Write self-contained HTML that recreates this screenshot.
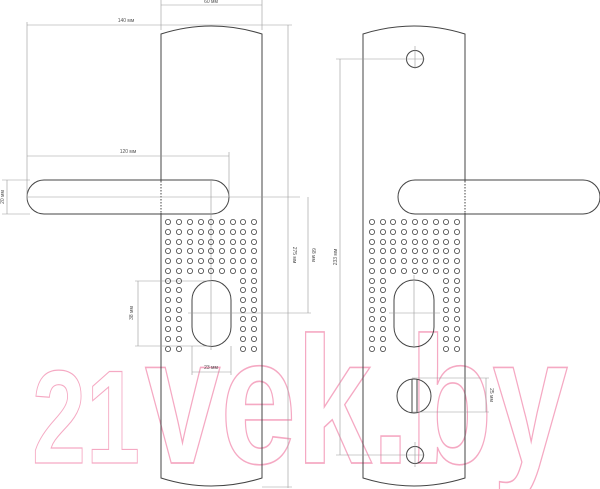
<!DOCTYPE html>
<html><head><meta charset="utf-8"><style>html,body{margin:0;padding:0;background:#fff}svg{display:block}</style></head><body>
<svg width="600" height="489" viewBox="0 0 600 489" xmlns="http://www.w3.org/2000/svg" font-family="Liberation Sans, sans-serif">
<!-- watermark -->
<g fill="none" stroke="#f5a9c3" stroke-width="1.2" font-weight="bold">
<text x="32" y="463" font-size="133" textLength="108" lengthAdjust="spacingAndGlyphs">21</text>
<g transform="translate(0,463) scale(1,1.36)">
<text x="145" y="0" font-size="133" textLength="423" lengthAdjust="spacingAndGlyphs">vek.by</text>
</g>
</g>
<g fill="none" stroke="#444" stroke-width="1">
<!-- left plate -->
<path d="M161 34 Q211 18 262 34 L262 478 Q211 494 161 478 Z"/>
<path d="M161 180 L61 180 L44 180 A17 17 0 0 0 44 214 L161 214 M161 180 L212 180 A17 17 0 0 1 212 214 L161 214" />
<!-- left keyhole -->
<path d="M192 300 A19.5 19.5 0 0 1 231 300 L231 327 A19.5 19.5 0 0 1 192 327 Z"/>
<!-- right plate -->
<path d="M363 34 Q414 18 465 34 L465 478 Q414 494 363 478 Z"/>
<path d="M465 180 L583 180 A17 17 0 0 1 583 214 L465 214 M465 180 L415 180 A17 17 0 0 0 415 214 L465 214"/>
<path d="M394 300 A20 20 0 0 1 434 300 L434 327 A20 20 0 0 1 394 327 Z"/>
<circle cx="415" cy="59" r="8.5"/>
<circle cx="415" cy="455" r="8.5"/>
<circle cx="414" cy="396" r="17"/>
<line x1="412" y1="379" x2="412" y2="413"/><line x1="417" y1="379" x2="417" y2="413"/>
</g>
<g stroke="#fff" stroke-width="1.2"><line x1="161" y1="181" x2="161" y2="213"/><line x1="465" y1="181" x2="465" y2="213"/></g>
<g stroke="#444" stroke-width="1" stroke-dasharray="1.5 1.5"><line x1="161" y1="181" x2="161" y2="213"/><line x1="465" y1="181" x2="465" y2="213"/></g>
<!-- dim lines -->
<g stroke="#999" stroke-width="0.6" fill="none">
<line x1="161" y1="0" x2="161" y2="30"/><line x1="262" y1="0" x2="262" y2="30"/>
<line x1="161" y1="5" x2="262" y2="5"/>
<line x1="27" y1="25" x2="262" y2="25"/><line x1="27" y1="22" x2="27" y2="200"/>
<line x1="262" y1="25" x2="292" y2="25"/>
<line x1="27" y1="156" x2="229" y2="156"/><line x1="229" y1="152" x2="229" y2="197"/>
<line x1="2" y1="180" x2="30" y2="180"/><line x1="2" y1="214" x2="30" y2="214"/>
<line x1="7" y1="180" x2="7" y2="214"/>
<line x1="27" y1="197" x2="300" y2="197"/>
<line x1="211" y1="180" x2="211" y2="350"/>
<line x1="288" y1="25" x2="288" y2="488"/><line x1="262" y1="487" x2="292" y2="487"/>
<line x1="308" y1="197" x2="308" y2="313"/><line x1="188" y1="313" x2="311" y2="313"/>
<line x1="138" y1="281" x2="138" y2="346"/><line x1="135" y1="281" x2="211" y2="281"/><line x1="135" y1="346" x2="211" y2="346"/>
<line x1="192" y1="346" x2="192" y2="375"/><line x1="231" y1="346" x2="231" y2="375"/><line x1="192" y1="372" x2="231" y2="372"/>
<line x1="414" y1="275" x2="414" y2="348"/><line x1="389" y1="313" x2="440" y2="313"/>
<line x1="415" y1="46" x2="415" y2="69"/><line x1="336" y1="59" x2="425" y2="59"/>
<line x1="415" y1="442" x2="415" y2="467"/><line x1="336" y1="455" x2="425" y2="455"/>
<line x1="340" y1="59" x2="340" y2="455"/>
<line x1="412" y1="378" x2="489" y2="378"/><line x1="412" y1="412" x2="489" y2="412"/><line x1="486" y1="378" x2="486" y2="412"/>
</g>
<g font-size="5" fill="#555">
<text x="211" y="3" text-anchor="middle">60 мм</text>
<text x="126" y="22" text-anchor="middle">140 мм</text>
<text x="128" y="153" text-anchor="middle">120 мм</text>
<text x="211" y="369" text-anchor="middle">23 мм</text>
<text transform="translate(4,197) rotate(-90)" text-anchor="middle">20 мм</text>
<text transform="translate(133,313) rotate(-90)" text-anchor="middle">38 мм</text>
<text transform="translate(293,255) rotate(90)" text-anchor="middle">275 мм</text>
<text transform="translate(312,255) rotate(90)" text-anchor="middle">68 мм</text>
<text transform="translate(337,257) rotate(-90)" text-anchor="middle">233 мм</text>
<text transform="translate(490,395) rotate(90)" text-anchor="middle">25 мм</text>
</g>
<g fill="none" stroke="#444" stroke-width="0.8" id="dots">
<!-- left dots -->
<g id="L">
</g>
</g>
<script>
(function(){
var svgNS="http://www.w3.org/2000/svg",g=document.getElementById('dots');
var rows=[222,232,242,251,261,271,281,290,300,310,319,329,339,349];
var lc=[168,179,190,201,211,222,233,243,254], rc=[372,383,393,404,415,425,436,446,457];
[lc,rc].forEach(function(cols){
rows.forEach(function(y,ri){cols.forEach(function(x,ci){
if(ri>=6 && ci>1 && ci<7) return;
var c=document.createElementNS(svgNS,'circle');c.setAttribute('cx',x);c.setAttribute('cy',y);c.setAttribute('r',2.6);g.appendChild(c);});});});
})();
</script>
</svg>
</body></html>
